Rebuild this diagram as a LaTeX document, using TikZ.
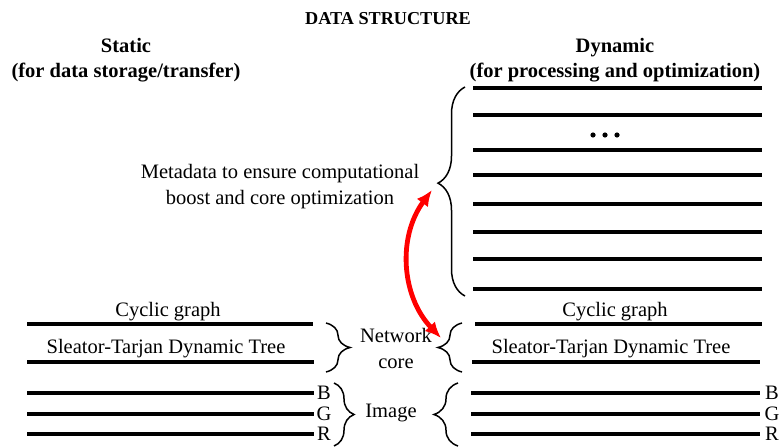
\documentclass[tikz,border=0pt]{standalone}
\usepackage{fontspec}
\setmainfont{Liberation Serif}
\usetikzlibrary{arrows.meta,decorations.pathreplacing}
\tikzset{>=latex}

\begin{document}
\begin{tikzpicture}[x=1pt,y=-1pt]
        % bar = one row of the structure, brc = curly brace (amplitude, aspect)
        \tikzset{bar/.style={line width=3.8pt}}
        \tikzset{brc/.style 2 args={decorate, line width=1.5pt,
                decoration={brace, amplitude=#1, aspect=#2}}}
        \tikzset{link/.style={<->, red, line width=4.8pt,
                >={Latex[length=16pt,width=14pt]}}}
        \tikzstyle{every node}=[font=\fontsize{20.5}{26}\selectfont, align=center, inner sep=0pt]
        \tikzstyle{head}=[font=\bfseries\fontsize{20.5}{25}\selectfont]
        \useasboundingbox (0,0) rectangle (780,447);

        \node[head, font=\bfseries\fontsize{18.2}{22}\selectfont] (DS) at (388,19) {DATA STRUCTURE};
        \node[head] (ST) at (126,60) {Static\\(for data storage/transfer)};
        \node[head] (DY) at (615,60) {Dynamic\\(for processing and optimization)};

        % dynamic side: metadata rows
        \foreach \y in {88,115,150,175,204,232,259,289}
                \draw[bar] (473,\y) -- (762,\y);
        \foreach \x in {593,605,617}
                \fill (\x,135) circle (2.6pt);
        \draw[brc={27}{0.54}] (465,296) -- (465,87);
        \coordinate (MT) at (432,190);
        \node (MD) at (280,187) {Metadata to ensure computational\\boost and core optimization};

        % network core, both sides
        \node (CL) at (168,312) {Cyclic graph};
        \node (SL) at (166,349) {Sleator-Tarjan Dynamic Tree};
        \draw[bar] (27,324) -- (313,324);
        \draw[bar] (27,362) -- (314,362);
        \node (CR) at (615,312) {Cyclic graph};
        \node (SR) at (611,349) {Sleator-Tarjan Dynamic Tree};
        \draw[bar] (475,324) -- (762,324);
        \draw[bar] (472,362) -- (760,362);
        \draw[brc={24}{0.5}] (326,323) -- (326,372);
        \draw[brc={24}{0.5}] (462,372) -- (462,323);
        \node (NC) at (396,348) {Network\\core};
        \coordinate (NT) at (441,338);

        % image channels, both sides
        \foreach \y/\c in {393/B,414/G,434/R} {
                \draw[bar] (27,\y) -- (314,\y);
                \draw[bar] (471,\y) -- (760,\y);
                \node (L\c) at (324,\y) {\c};
                \node (R\c) at (772,\y) {\c};
        }
        \draw[brc={20}{0.5}] (334,383) -- (334,446);
        \draw[brc={24}{0.5}] (458,446) -- (458,383);
        \node (IM) at (391,413) {Image};

        \draw[link] (MT) to[bend right=40] (NT);
\end{tikzpicture}
\end{document}
